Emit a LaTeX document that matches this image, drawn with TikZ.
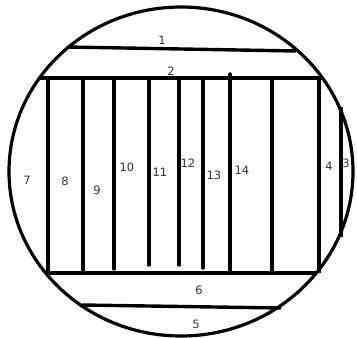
\documentclass[tikz,border=0pt]{standalone}
\usepackage{fontspec}
\setmainfont{DejaVu Sans}
\usepackage{tikz}

\tikzset{
  wall/.style={line width=3.4pt, line cap=round},
  num/.style={font=\fontsize{11.5}{12}\selectfont, text=black!80, inner sep=0pt}
}

\begin{document}
\begin{tikzpicture}[x=1pt, y=-1pt]
  \useasboundingbox (0,0) rectangle (357,338);

  % Outer circle
  \draw[line width=3.2pt] (181,171.5) ellipse [x radius=172, y radius=164.5];

  % Horizontal lines
  \draw[wall, line cap=butt] (67,47) -- (296,51);    % 1
  \draw[wall, line cap=butt] (39,78) -- (322,78);    % 2
  \draw[wall, line cap=butt] (46,273) -- (316,273);  % 6
  \draw[wall, line cap=butt] (82,305) -- (281,308);  % 5

  % Full height verticals
  \foreach \x in {48,83,272,319}
    \draw[wall, line cap=butt] (\x,78) -- (\x,273);
  \draw[wall] (230,74) -- (230,273);

  % Short verticals
  \foreach \x/\y in {114/269,149/265,179/265,203/268}
    \draw[wall] (\x,78) -- (\x,\y);

  % Right piece
  \draw[wall, line cap=butt] (341,107) -- (341,237);

  % Numbers
  \node[num] (l1) at (162,40) {1};
  \node[num] (l2) at (171,71) {2};
  \node[num] (l3) at (346,163) {3};
  \node[num] (l4) at (329,166) {4};
  \node[num] (l5) at (196,324) {5};
  \node[num] (l6) at (199,290) {6};
  \node[num] (l7) at (27,180) {7};
  \node[num] (l8) at (65,181) {8};
  \node[num] (l9) at (97,190) {9};
  \node[num] (l10) at (127,167) {10};
  \node[num] (l11) at (160,172) {11};
  \node[num] (l12) at (188,163) {12};
  \node[num] (l13) at (214,175) {13};
  \node[num] (l14) at (242,170) {14};
\end{tikzpicture}
\end{document}
